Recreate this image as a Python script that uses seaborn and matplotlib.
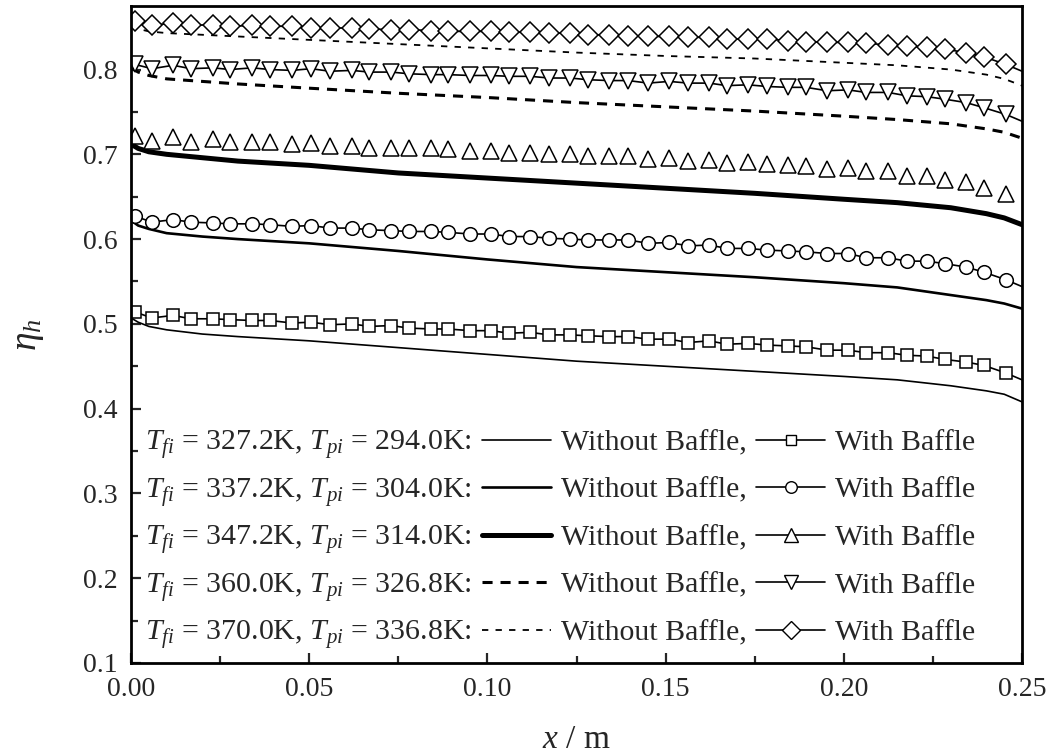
import matplotlib
matplotlib.use("Agg")
import matplotlib.pyplot as plt
from matplotlib.lines import Line2D
from matplotlib.ticker import MultipleLocator, FormatStrFormatter
import seaborn as sns

# ---- data -----------------------------------------------------------------
# axial position of the smooth (no baffle) profiles
x_plain = [0.0, 0.002, 0.005, 0.01, 0.02, 0.03, 0.05, 0.075, 0.10, 0.125,
           0.15, 0.175, 0.20, 0.215, 0.23, 0.24, 0.245, 0.25]

eta_plain_1 = [0.507, 0.502, 0.497, 0.493, 0.488, 0.485, 0.480, 0.472, 0.464, 0.456,
               0.450, 0.444, 0.438, 0.434, 0.427, 0.421, 0.417, 0.408]
eta_plain_2 = [0.622, 0.616, 0.612, 0.607, 0.603, 0.600, 0.595, 0.586, 0.576, 0.567,
               0.561, 0.555, 0.548, 0.543, 0.534, 0.528, 0.524, 0.518]
eta_plain_3 = [0.712, 0.707, 0.703, 0.700, 0.696, 0.692, 0.687, 0.678, 0.672, 0.666,
               0.660, 0.654, 0.647, 0.643, 0.637, 0.630, 0.625, 0.617]
eta_plain_4 = [0.802, 0.797, 0.793, 0.789, 0.786, 0.783, 0.778, 0.772, 0.767, 0.761,
               0.756, 0.751, 0.745, 0.741, 0.736, 0.730, 0.726, 0.719]
eta_plain_5 = [0.852, 0.848, 0.845, 0.843, 0.841, 0.839, 0.835, 0.830, 0.825, 0.820,
               0.816, 0.813, 0.808, 0.805, 0.800, 0.794, 0.789, 0.781]

# axial positions of the baffled profiles (last entry = channel exit)
x_baffle = [0.0011, 0.0059, 0.0118, 0.0168, 0.0230, 0.0278, 0.0340, 0.0390, 0.0452,
            0.0505, 0.0558, 0.0620, 0.0668, 0.0730, 0.0780, 0.0842, 0.0889, 0.0951,
            0.1010, 0.1061, 0.1120, 0.1173, 0.1232, 0.1282, 0.1341, 0.1395, 0.1451,
            0.1510, 0.1563, 0.1622, 0.1672, 0.1731, 0.1785, 0.1843, 0.1894, 0.1953,
            0.2012, 0.2062, 0.2124, 0.2177, 0.2233, 0.2284, 0.2343, 0.2393, 0.2455,
            0.2500]

eta_baffle_1 = [0.514, 0.507, 0.510, 0.506, 0.506, 0.505, 0.504, 0.504, 0.501, 0.502,
                0.499, 0.500, 0.497, 0.498, 0.495, 0.494, 0.494, 0.492, 0.492, 0.489,
                0.490, 0.487, 0.487, 0.486, 0.485, 0.485, 0.482, 0.482, 0.478, 0.480,
                0.476, 0.477, 0.475, 0.474, 0.473, 0.469, 0.469, 0.466, 0.466, 0.463,
                0.462, 0.458, 0.455, 0.451, 0.442, 0.434]
eta_baffle_2 = [0.627, 0.620, 0.623, 0.620, 0.619, 0.618, 0.618, 0.617, 0.615, 0.616,
                0.613, 0.613, 0.611, 0.610, 0.609, 0.609, 0.608, 0.606, 0.606, 0.603,
                0.603, 0.601, 0.600, 0.599, 0.599, 0.599, 0.595, 0.596, 0.592, 0.593,
                0.589, 0.589, 0.587, 0.586, 0.585, 0.583, 0.583, 0.578, 0.578, 0.574,
                0.574, 0.571, 0.567, 0.561, 0.552, 0.544]
eta_baffle_3 = [0.722, 0.716, 0.721, 0.714, 0.718, 0.714, 0.714, 0.714, 0.712, 0.713,
                0.710, 0.710, 0.708, 0.708, 0.707, 0.707, 0.706, 0.704, 0.704, 0.702,
                0.702, 0.700, 0.700, 0.698, 0.698, 0.698, 0.695, 0.696, 0.692, 0.693,
                0.690, 0.691, 0.688, 0.687, 0.686, 0.683, 0.684, 0.680, 0.680, 0.675,
                0.674, 0.670, 0.667, 0.660, 0.653, 0.645]
eta_baffle_4 = [0.806, 0.801, 0.805, 0.801, 0.802, 0.800, 0.802, 0.800, 0.799, 0.801,
                0.798, 0.799, 0.797, 0.797, 0.795, 0.794, 0.794, 0.793, 0.793, 0.792,
                0.792, 0.790, 0.790, 0.788, 0.787, 0.787, 0.784, 0.786, 0.784, 0.784,
                0.781, 0.782, 0.780, 0.779, 0.779, 0.775, 0.776, 0.773, 0.773, 0.769,
                0.768, 0.765, 0.761, 0.755, 0.747, 0.739]
eta_baffle_5 = [0.857, 0.852, 0.855, 0.852, 0.853, 0.851, 0.852, 0.851, 0.851, 0.849,
                0.849, 0.849, 0.848, 0.847, 0.847, 0.846, 0.845, 0.845, 0.845, 0.844,
                0.844, 0.843, 0.843, 0.841, 0.841, 0.840, 0.839, 0.839, 0.838, 0.838,
                0.836, 0.836, 0.836, 0.834, 0.833, 0.832, 0.832, 0.831, 0.829, 0.828,
                0.826, 0.824, 0.820, 0.815, 0.806, 0.798]

conditions = [
    r"$T_{fi}$ = 327.2K, $T_{pi}$ = 294.0K:",
    r"$T_{fi}$ = 337.2K, $T_{pi}$ = 304.0K:",
    r"$T_{fi}$ = 347.2K, $T_{pi}$ = 314.0K:",
    r"$T_{fi}$ = 360.0K, $T_{pi}$ = 326.8K:",
    r"$T_{fi}$ = 370.0K, $T_{pi}$ = 336.8K:",
]
label_plain = "Without Baffle,"
label_baffle = "With Baffle"

# ---- style ----------------------------------------------------------------
sns.set_theme(style="ticks")
plt.rcParams.update({
    "font.family": ["Liberation Serif", "DejaVu Serif"],
    "mathtext.fontset": "custom",
    "mathtext.rm": "Liberation Serif",
    "mathtext.it": "Liberation Serif:italic",
    "mathtext.bf": "Liberation Serif:bold",
    "axes.linewidth": 2.0,
    "xtick.direction": "in",
    "ytick.direction": "in",
})

plain_styles = [
    dict(linewidth=1.2, linestyle="-"),
    dict(linewidth=1.9, linestyle="-"),
    dict(linewidth=3.6, linestyle="-"),
    dict(linewidth=2.2, linestyle=(0, (3.3, 2.6))),
    dict(linewidth=1.3, linestyle=(0, (3.5, 4.0))),
]
baffle_styles = [
    dict(marker="s", markersize=8.8, linestyle="-"),
    dict(marker="o", markersize=9.8, linestyle="-"),
    dict(marker="^", markersize=12.0, linestyle="none"),
    dict(marker="v", markersize=12.0, linestyle="-"),
    dict(marker="D", markersize=10.3, linestyle="-"),
]

fig = plt.figure(figsize=(10.49, 7.54), dpi=100)
ax = fig.add_axes([0.1249, 0.1207, 0.8494, 0.8714])

plain_series = [eta_plain_1, eta_plain_2, eta_plain_3, eta_plain_4, eta_plain_5]
baffle_series = [eta_baffle_1, eta_baffle_2, eta_baffle_3, eta_baffle_4, eta_baffle_5]
n_marks = len(x_baffle) - 1

for y, st in zip(plain_series, plain_styles):
    sns.lineplot(x=x_plain, y=y, ax=ax, color="black", errorbar=None,
                 **st)

for y, st in zip(baffle_series, baffle_styles):
    sns.lineplot(x=x_baffle, y=y, ax=ax, color="black", errorbar=None,
                 linewidth=1.2, markerfacecolor="white", markeredgecolor="black",
                 markeredgewidth=1.1, markevery=list(range(n_marks)), **st)

# ---- axes -----------------------------------------------------------------
ax.set_xlim(0.0, 0.25)
ax.set_ylim(0.1, 0.875)
ax.xaxis.set_major_locator(MultipleLocator(0.05))
ax.xaxis.set_minor_locator(MultipleLocator(0.025))
ax.yaxis.set_major_locator(MultipleLocator(0.1))
ax.yaxis.set_minor_locator(MultipleLocator(0.05))
ax.xaxis.set_major_formatter(FormatStrFormatter("%.2f"))
ax.yaxis.set_major_formatter(FormatStrFormatter("%.1f"))
ax.tick_params(which="major", length=7, width=1.6, labelsize=20, pad=10,
               top=False, right=False)
ax.tick_params(which="minor", length=5, width=1.6, top=False, right=False)
for sp in ax.spines.values():
    sp.set_visible(True)
    sp.set_linewidth(2.0)
    sp.set_color("black")

ax.set_xlabel(r"$x$ / m", fontsize=24, labelpad=16)
ax.set_ylabel(r"$\eta_h$", fontsize=27, labelpad=26)

# ---- legend ---------------------------------------------------------------
plain_handles = [Line2D([], [], color="black", **st) for st in plain_styles]
baffle_handles = []
for st in baffle_styles:
    s = dict(st)
    s["linestyle"] = "-"
    s["markersize"] = s["markersize"] * 0.85
    baffle_handles.append(Line2D([], [], color="black", linewidth=1.2,
                                 markerfacecolor="white", markeredgecolor="black",
                                 markeredgewidth=1.0, **s))

leg = ax.legend(handles=plain_handles + baffle_handles,
                labels=[label_plain] * 5 + [label_baffle] * 5,
                ncol=2, loc="upper left", bbox_to_anchor=(0.394, 0.356),
                frameon=False, fontsize=21.5, handlelength=2.3,
                handletextpad=0.33, columnspacing=0.33, labelspacing=0.69,
                borderpad=0, borderaxespad=0, numpoints=1)

# condition labels sit on the same baselines as the legend rows
fig.canvas.draw()
inv = ax.transAxes.inverted()
for txt, cond in zip(leg.get_texts()[:5], conditions):
    _, yb = inv.transform(txt.get_transform().transform((0, 0)))
    ax.text(0.0157, yb, cond, transform=ax.transAxes, fontsize=21.5,
            ha="left", va="baseline")

fig.savefig("out.png", dpi=100)
